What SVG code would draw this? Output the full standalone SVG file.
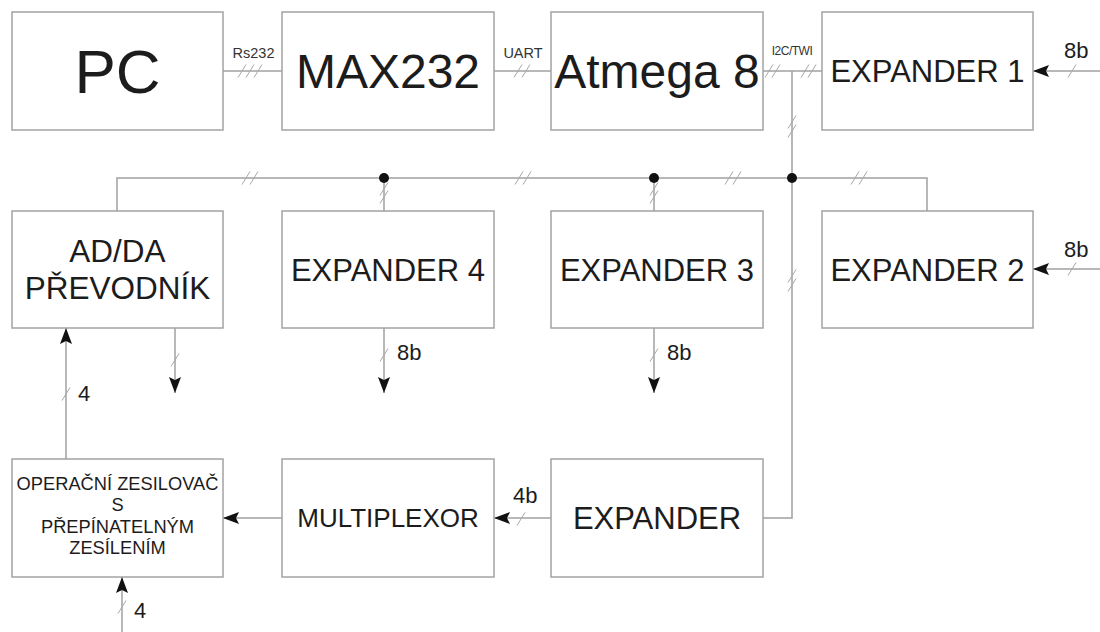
<svg xmlns="http://www.w3.org/2000/svg" xmlns:xlink="http://www.w3.org/1999/xlink" width="1100" height="632" viewBox="0 0 1100 632">
<style>
.box{fill:#fff;stroke:#a3a3a3;stroke-width:1.5}
.ln{fill:none;stroke:#a0a0a0;stroke-width:1.5}
.h{fill:none;stroke:#a8a8a8;stroke-width:1}
text{font-family:"Liberation Sans",Arial,sans-serif;fill:#1c1c1c;text-anchor:middle}
.big{font-size:62px}
.t48{font-size:48px}
.t31{font-size:31px}
.t30{font-size:31.5px}
.t26{font-size:26px}
.t17{font-size:18.3px}
.lbl{font-size:14.5px;fill:#333}
.small{font-size:12px;fill:#333;letter-spacing:-0.5px}
.num{font-size:22px;text-anchor:start}
</style>
<defs>
<marker id="arr" viewBox="0 0 16 12" refX="16" refY="6" markerWidth="16" markerHeight="12" markerUnits="userSpaceOnUse" orient="auto"><path d="M0 0 L16 6 L0 12 L3 6 z" fill="#111"/></marker>
<path id="sl" d="M-4 6.5 L4 -6.5"/>
</defs>

<g id="connectors">
<line class="ln" x1="223" y1="71" x2="282" y2="71"/>
<line class="ln" x1="494" y1="71" x2="551" y2="71"/>
<line class="ln" x1="763" y1="71" x2="822" y2="71"/>
<line class="ln" x1="1100" y1="71" x2="1033" y2="71" marker-end="url(#arr)"/>
<line class="ln" x1="1100" y1="269" x2="1033" y2="269" marker-end="url(#arr)"/>
<polyline class="ln" points="117,211 117,178 927,178 927,211"/>
<line class="ln" x1="384" y1="178" x2="384" y2="211"/>
<line class="ln" x1="654" y1="178" x2="654" y2="211"/>
<polyline class="ln" points="792,71 792,518 763,518"/>
<line class="ln" x1="551" y1="518" x2="494" y2="518" marker-end="url(#arr)"/>
<line class="ln" x1="282" y1="518" x2="223" y2="518" marker-end="url(#arr)"/>
<line class="ln" x1="66" y1="459" x2="66" y2="328" marker-end="url(#arr)"/>
<line class="ln" x1="122" y1="632" x2="122" y2="577" marker-end="url(#arr)"/>
<line class="ln" x1="175" y1="328" x2="175" y2="393" marker-end="url(#arr)"/>
<line class="ln" x1="384" y1="328" x2="384" y2="393" marker-end="url(#arr)"/>
<line class="ln" x1="654" y1="328" x2="654" y2="393" marker-end="url(#arr)"/>
<circle cx="384" cy="178" r="5" fill="#111"/>
<circle cx="654" cy="178" r="5" fill="#111"/>
<circle cx="792" cy="178" r="5" fill="#111"/>
<g class="h">
<use href="#sl" x="242" y="71"/><use href="#sl" x="250" y="71"/><use href="#sl" x="258" y="71"/>
<use href="#sl" x="518" y="71"/><use href="#sl" x="526" y="71"/>
<use href="#sl" x="769" y="71"/><use href="#sl" x="776" y="71"/>
<use href="#sl" x="805" y="71"/><use href="#sl" x="812" y="71"/>
<use href="#sl" x="1072" y="71"/>
<use href="#sl" x="1072" y="269"/>
<use href="#sl" x="792" y="122"/><use href="#sl" x="792" y="131"/>
<use href="#sl" x="792" y="276"/><use href="#sl" x="792" y="285"/>
<use href="#sl" x="246" y="178"/><use href="#sl" x="254" y="178"/>
<use href="#sl" x="519" y="178"/><use href="#sl" x="527" y="178"/>
<use href="#sl" x="729" y="178"/><use href="#sl" x="737" y="178"/>
<use href="#sl" x="855" y="178"/><use href="#sl" x="863" y="178"/>
<use href="#sl" x="384" y="189"/><use href="#sl" x="384" y="197"/>
<use href="#sl" x="654" y="189"/><use href="#sl" x="654" y="197"/>
<use href="#sl" x="175" y="360"/>
<use href="#sl" x="384" y="355"/>
<use href="#sl" x="654" y="355"/>
<use href="#sl" x="66" y="394"/>
<use href="#sl" x="521" y="519"/>
<use href="#sl" x="122" y="607"/>
</g>
<text class="lbl" x="253.5" y="58">Rs232</text>
<text class="lbl" x="523" y="58">UART</text>
<text class="small" x="792" y="55">I2C/TWI</text>
<text class="num" x="1064" y="58">8b</text>
<text class="num" x="1064" y="257">8b</text>
<text class="num" x="397" y="360">8b</text>
<text class="num" x="667" y="360">8b</text>
<text class="num" x="78" y="401">4</text>
<text class="num" x="513" y="503">4b</text>
<text class="num" x="134" y="618">4</text>
</g>

<g id="pc"><rect class="box" x="12" y="12" width="211" height="118"/><text class="big" x="117.5" y="93">PC</text></g>
<g id="max232"><rect class="box" x="282" y="12" width="212" height="118"/><text class="t48" x="388" y="88">MAX232</text></g>
<g id="atmega"><rect class="box" x="551" y="12" width="212" height="118"/><text class="t48" x="657" y="88">Atmega 8</text></g>
<g id="expander1"><rect class="box" x="822" y="12" width="211" height="118"/><text class="t31" x="927.5" y="82">EXPANDER 1</text></g>

<g id="adda"><rect class="box" x="12" y="211" width="211" height="117"/><text class="t30" x="117.5" y="262">AD/DA</text><text class="t30" x="117.5" y="299">PŘEVODNÍK</text></g>
<g id="expander4"><rect class="box" x="282" y="211" width="212" height="117"/><text class="t31" x="388" y="281">EXPANDER 4</text></g>
<g id="expander3"><rect class="box" x="551" y="211" width="212" height="117"/><text class="t31" x="657" y="281">EXPANDER 3</text></g>
<g id="expander2"><rect class="box" x="822" y="211" width="211" height="117"/><text class="t31" x="927.5" y="281">EXPANDER 2</text></g>

<g id="opamp"><rect class="box" x="12" y="459" width="211" height="118"/>
<text class="t17" x="117.5" y="490">OPERAČNÍ ZESILOVAČ</text>
<text class="t17" x="117.5" y="511">S</text>
<text class="t17" x="117.5" y="533">PŘEPÍNATELNÝM</text>
<text class="t17" x="117.5" y="554">ZESÍLENÍM</text></g>
<g id="multiplexor"><rect class="box" x="282" y="459" width="212" height="118"/><text class="t26" x="388" y="527">MULTIPLEXOR</text></g>
<g id="expander"><rect class="box" x="551" y="459" width="212" height="118"/><text class="t31" x="657" y="529">EXPANDER</text></g>
</svg>
